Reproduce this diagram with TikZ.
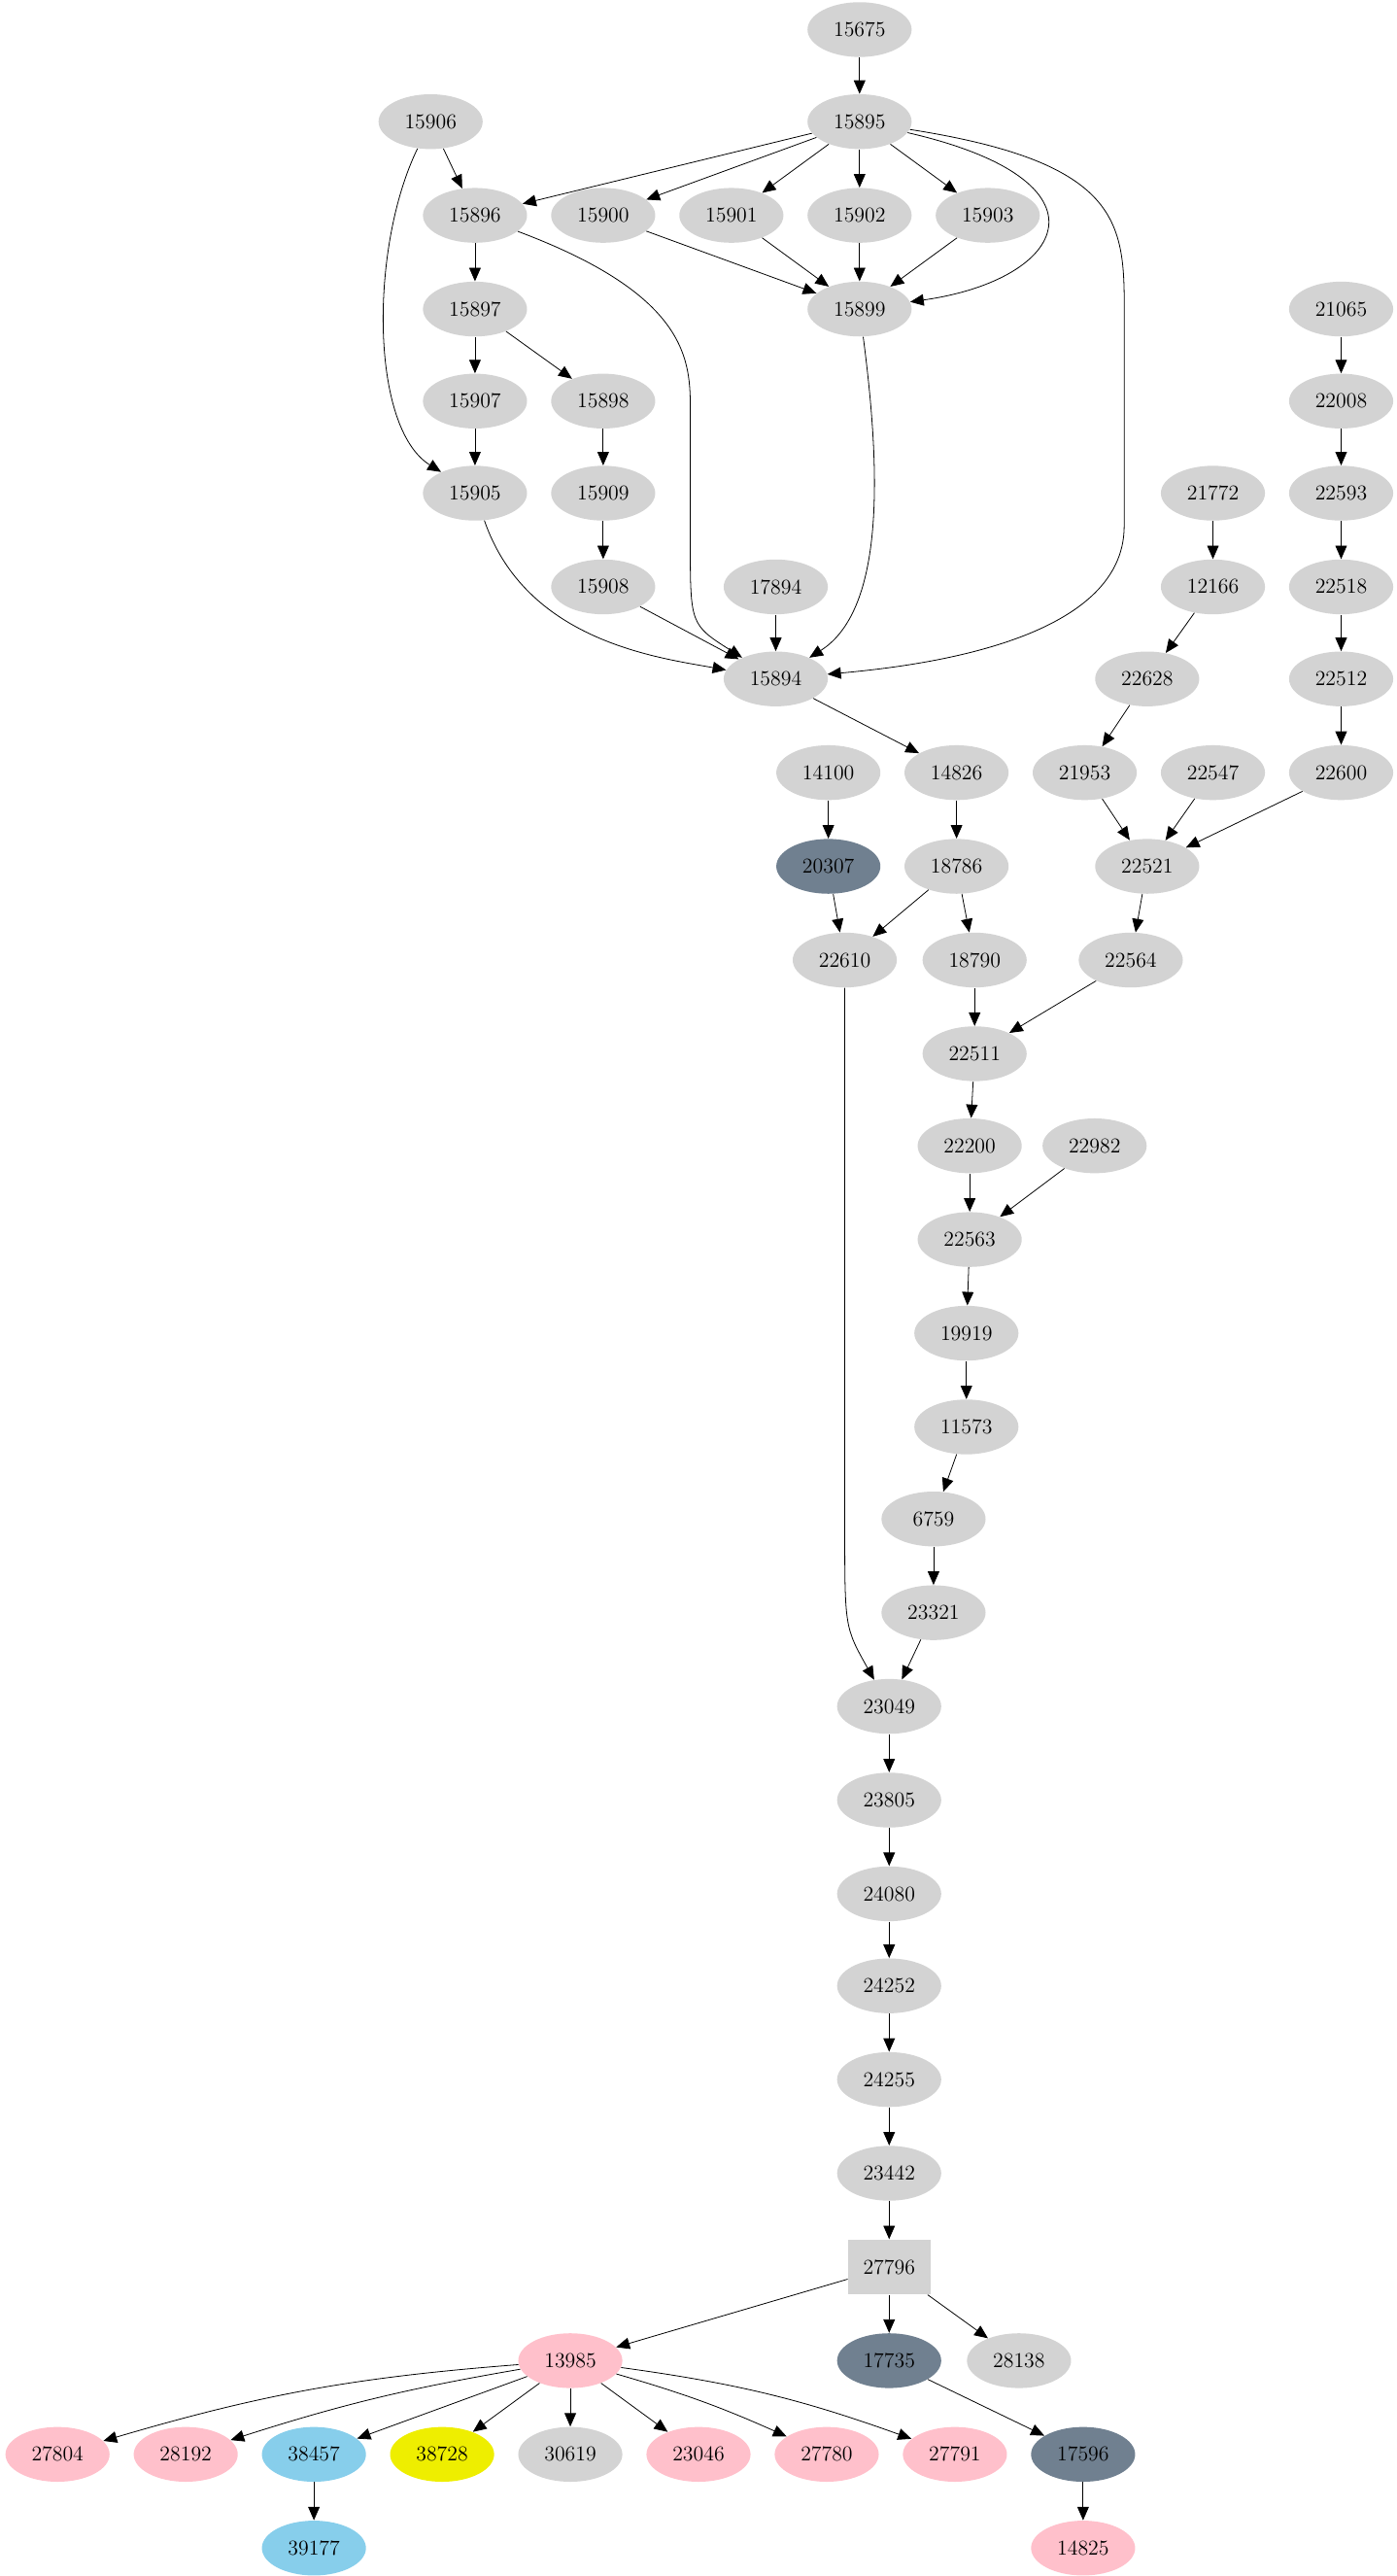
\documentclass[tikz,border=0pt]{standalone}
\usepackage{tikz}
\usetikzlibrary{arrows.meta,shapes.geometric}
\definecolor{gnode}{HTML}{D3D3D3}
\definecolor{dnode}{HTML}{708090}
\definecolor{pnode}{HTML}{FFC0CB}
\definecolor{bnode}{HTML}{87CEEB}
\definecolor{ynode}{HTML}{EEEE00}
\begin{document}
\begin{tikzpicture}
[x=0.03cm,y=-0.03cm,>={Triangle[length=7pt,width=6pt]},%
  every node/.style={shape=ellipse,fill=gnode,minimum width=1.9cm,minimum height=1.0cm,inner sep=0pt,font=\fontsize{11}{13}\selectfont},%
  dk/.style={fill=dnode},pk/.style={fill=pnode},bl/.style={fill=bnode},yl/.style={fill=ynode}]
\useasboundingbox (0,0) rectangle (850,1567);
\foreach \n/\x/\y in {15675/523/18,15906/262/74,15895/523/74,15896/289/131,15900/367/131,
  15901/445/131,15902/523/131,15903/601/131,15897/289/188,15899/523/188,21065/816/188,
  15907/289/244,15898/367/244,22008/816/244,15905/289/300,15909/367/300,21772/738/300,
  22593/816/300,15908/367/357,17894/472/357,12166/738/357,22518/816/357,15894/472/413,
  22628/698/413,22512/816/413,14100/504/470,14826/582/470,21953/660/470,22547/738/470,
  22600/816/470,18786/582/527,22521/698/527,22610/514/584,18790/593/584,22564/688/584,
  22511/593/641,22200/590/697,22982/666/697,22563/590/754,19919/588/811,11573/588/868,
  6759/568/924,23321/568/981,23049/541/1038,23805/541/1095,24080/541/1152,24252/541/1208,
  24255/541/1265,23442/541/1322,28138/620/1436,30619/347/1493}
  \node (n\n) at (\x,\y) {\n};
\node[dk] (n20307) at (504,527) {20307};
\node[dk] (n17735) at (541,1436) {17735};
\node[dk] (n17596) at (659,1493) {17596};
\node[shape=rectangle,minimum width=1.5cm] (n27796) at (541,1379) {27796};
\foreach \n/\x/\y in {13985/347/1436,27804/35/1493,28192/113/1493,23046/425/1493,
  27780/503/1493,27791/581/1493,14825/659/1550}
  \node[pk] (n\n) at (\x,\y) {\n};
\node[bl] (n38457) at (191,1493) {38457};
\node[bl] (n39177) at (191,1550) {39177};
\node[yl] (n38728) at (269,1493) {38728};
% straight edges
\foreach \a/\b in {15675/15895,15906/15896,15895/15896,15895/15900,15895/15901,15895/15902,
  15895/15903,15900/15899,15901/15899,15902/15899,15903/15899,15896/15897,15897/15907,
  15897/15898,15907/15905,15898/15909,15909/15908,15908/15894,17894/15894,15894/14826,
  21065/22008,22008/22593,22593/22518,22518/22512,22512/22600,21772/12166,12166/22628,
  22628/21953,21953/22521,22547/22521,22600/22521,22521/22564,14100/20307,14826/18786,
  20307/22610,18786/22610,18786/18790,18790/22511,22564/22511,22511/22200,22200/22563,
  22982/22563,22563/19919,19919/11573,11573/6759,6759/23321,23321/23049,23049/23805,
  23805/24080,24080/24252,24252/24255,24255/23442,23442/27796,27796/13985,27796/17735,
  27796/28138,17735/17596,17596/14825,38457/39177,13985/38728,13985/30619,13985/23046,
  13985/38457}
  \draw[->] (n\a) -- (n\b);
\draw[->] (n13985) to[bend right=6] (n27804);
\draw[->] (n13985) to[bend right=4] (n28192);
\draw[->] (n13985) to[bend left=4] (n27780);
\draw[->] (n13985) to[bend left=6] (n27791);
% curved edges
\draw[->] (n15906) .. controls (225,150) and (225,260) .. (n15905);
\draw[->] (n15896) .. controls (420,180) and (420,220) .. (420,250) -- (420,330) .. controls (420,380) .. (n15894);
\draw[->] (n15895) .. controls (680,110) and (650,170) .. (n15899);
\draw[->] (n15895) .. controls (690,100) and (684,140) .. (684,200) -- (684,320) .. controls (684,390) and (560,405) .. (n15894);
\draw[->] (n15905) .. controls (320,390) and (400,400) .. (n15894);
\draw[->] (n15899) .. controls (535,280) and (540,370) .. (n15894);
\draw[->] (n22610) -- (514,930) .. controls (514,990) .. (n23049);
\end{tikzpicture}
\end{document}
